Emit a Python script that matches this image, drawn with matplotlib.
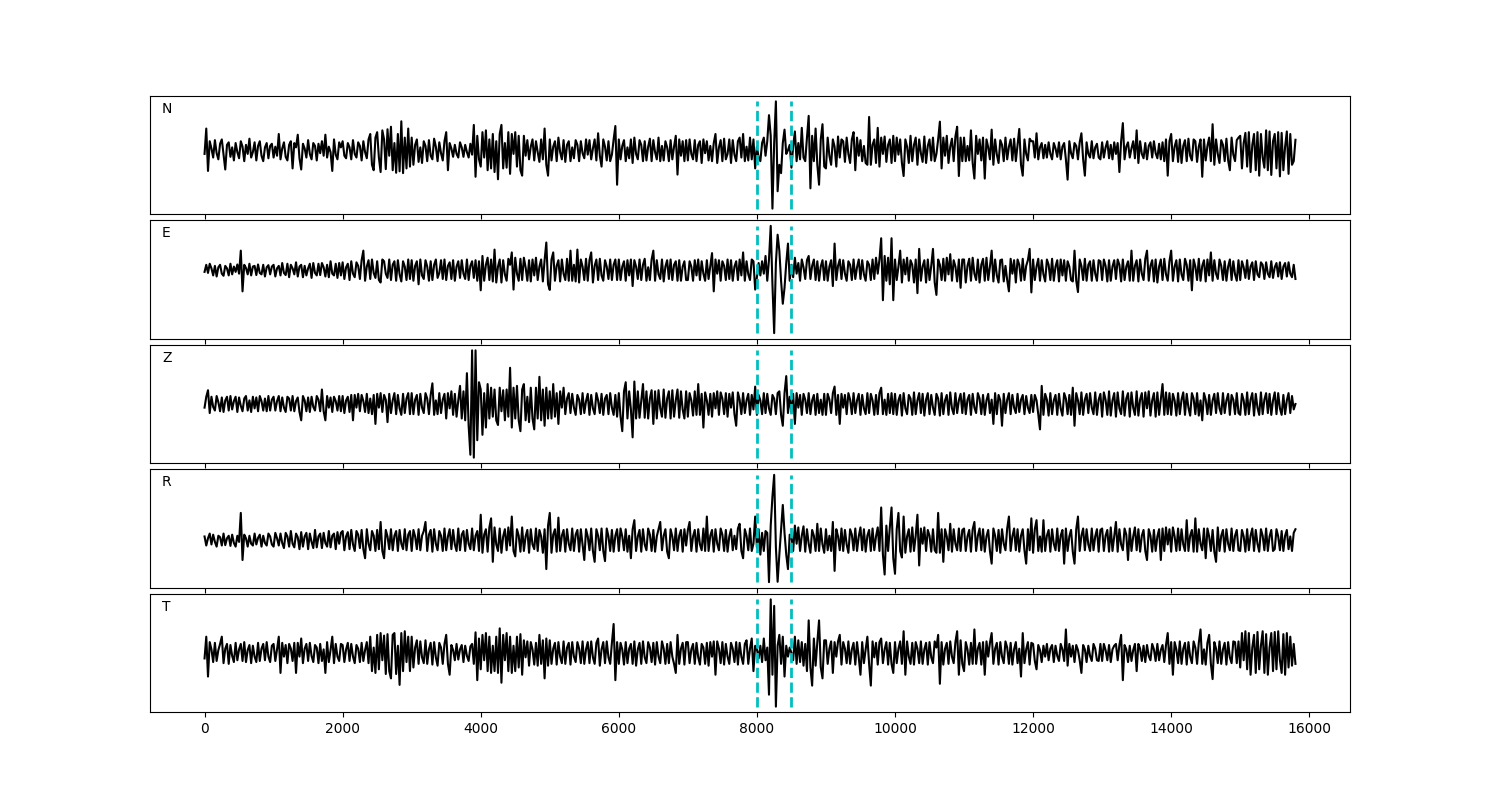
#!/usr/bin/env python3
"""
Five-component seismogram plot (N, E, Z, R, T) with a picked window
marked by two dashed vertical lines.

Outputs:
- out.png
"""

import numpy as np
import matplotlib
matplotlib.use("Agg")
import matplotlib.pyplot as plt

# Sample spacing of the traces (samples)
DT = 25

# Window picks (samples)
PICKS = [8000, 8500]

# Component labels, top to bottom
COMPONENTS = ["N", "E", "Z", "R", "T"]

# Traces, arbitrary amplitude units, one row = 1000 samples
trace_n = [
    -10, 60, -57, 25, 5, -20, 28, -8, -25, 18, 30, -12, -53, 15, 22, -18, 8, -28, 20, -5, -22, 25, 10, -30, 15, -10, 32, -20, -5, 22, -28, 12, 25, -15, -30, 8, 20, -22, 12, 18,
    -20, 10, -15, 45, -25, 5, 22, -18, -28, 15, 25, -50, 20, 8, 43, -22, -53, 18, 5, -20, 28, -10, -25, 20, 12, -28, 18, -8, 25, -15, 43, -20, 10, -5, -57, 30, -12, -25, 22, 8,
    25, -15, -22, 20, 8, -25, 28, -10, -20, 22, 12, -28, 25, -5, -22, 30, 45, -40, -55, 35, 50, -20, -60, 55, 30, -52, 58, -15, 65, -55, 20, -62, 45, -58, 80, -63, 35, -50, 60, -45,
    35, -40, 15, 30, -32, 8, -35, 25, 12, -30, 28, -15, -25, 32, 10, -30, 22, -8, -28, 25, 50, -55, 20, 5, -18, 15, -10, -20, 22, 8, -18, 15, -5, -20, 18, -12, 70, -73, 40, -25,
    -45, 50, -20, 55, -55, 30, -50, 45, -60, 25, -80, 45, 70, -50, 20, -48, 50, -65, 45, -10, 50, -45, 40, -55, -70, 40, -15, 28, -25, 10, 30, -28, 25, -5, -32, 30, -25, 60, -40, -70,
    30, -28, 10, 25, -30, 35, -5, -25, 28, -32, 15, 25, -30, 8, -22, 28, 15, -30, 25, -8, -22, 30, -12, 28, -25, 5, 30, -28, 47, -15, -45, 30, 10, -28, 25, -30, -12, 30, 67, -95,
    30, -25, 12, 28, -30, 8, -22, 30, -35, 35, -10, -25, 28, 15, -30, 25, -28, 10, 32, -30, 28, -5, -25, 35, -30, 12, -28, 25, 8, -30, 28, -25, 10, 40, -67, 30, -15, 25, -30, 28,
    -28, 30, -10, -25, 28, -30, 15, 25, -35, 30, -8, 25, -28, 12, -30, 20, 45, -35, 8, 28, -30, 32, -25, -10, 30, -35, 28, -12, -30, 25, 35, -20, 45, -30, 10, -28, 35, -25, 30, -50,
    10, -20, -30, 20, 35, -15, 25, 97, 40, -161, 20, 135, -113, -40, -63, 20, 57, -10, 0, 15, -48, 10, 52, -30, 20, -25, 62, -20, -30, 35, 95, -105, 40, -30, 60, -40, -95, 30, 72, -45,
    -50, 35, -15, -40, 30, 10, -45, 38, -20, 30, 25, -32, 35, -10, -35, 30, 50, -55, 35, -15, 28, -30, 12, -35, -40, 92, -40, 15, 30, -35, 62, -45, 35, -10, 38, -32, 15, 30, -35, 40,
    -30, 35, -12, 30, -35, -71, 30, 10, -35, 40, -30, 15, 35, -40, 30, -8, -32, 38, -35, 12, 30, -28, 35, -30, -10, 30, 79, -50, 35, -15, 40, -35, 10, 32, -30, 38, 65, -71, 35, -30,
    35, -30, 12, -28, 55, -35, -78, 40, -10, 30, -28, 35, -78, 30, 8, -25, 57, -40, 30, -12, -35, 28, 15, -30, 35, -25, 10, 30, -28, 32, -30, 15, 59, -40, -70, 30, -10, -28, 32, 25,
    25, -20, 47, -25, 8, 20, -22, 15, -20, 22, -10, -25, 20, 5, -18, 22, -25, 10, 20, -25, -81, 25, -8, -22, 20, 12, -25, 22, 47, -25, -70, 22, -10, -20, 25, -22, 8, 18, -20, -25,
    22, -20, 8, 25, -22, 15, -25, 22, -10, 20, -60, 25, 75, -25, 10, 22, -20, 5, 25, -22, 55, -35, 25, -10, -22, 20, -25, 12, 22, -20, 25, -8, -22, 18, -25, 22, -30, 30, -70, 25,
    45, -30, 10, 28, -32, 30, -35, 12, 28, -30, 32, -15, -28, 30, 25, -32, 10, 30, -73, 30, -28, 12, 35, -30, 72, -40, 30, -10, -35, 28, 15, -30, 32, -28, -55, 35, -12, -30, 28, 35,
    40, -50, 20, 48, -45, 50, -60, 15, 45, -55, 50, -70, 45, -20, -48, 55, -55, 52, -68, 25, 45, -50, 50, -72, 48, -55, 10, 52, -65, 45, -40, -30, 29,
]

trace_e = [
    -5, 15, -8, 18, 5, -15, 12, -18, 8, 15, -10, -16, 12, 5, -15, 18, -12, 10, -5, 16, -10, 55, -60, 15, 6, -12, 18, -15, 10, 12, -14, 16, -8, -12, 15, -18, 8, 14, -12, 10,
    15, -18, 5, 12, -15, 20, -8, -14, 18, -20, 15, 5, -12, 22, -18, 10, 15, -20, 12, -15, 5, 18, -22, 20, -8, -15, 18, -14, 20, 8, -18, 15, -20, 25, -10, -15, 18, -22, 20, -15,
    22, -25, 8, 18, -28, 25, -10, -20, 22, 12, -25, 28, 55, -30, 10, 28, -25, 30, -8, -22, 25, -28, -35, 30, 25, -10, -22, 30, -28, 15, 25, -30, 28, -12, -32, 25, 10, -28, 30, -25,
    28, -30, 12, 25, -40, 30, -15, -25, 28, 10, -30, 25, -28, 15, 30, -22, -8, 28, -25, 30, -28, 12, 22, -25, 28, -30, 10, 25, -22, 28, -10, -25, 30, -28, 12, 25, -22, 28, -30, 25,
    -57, 40, -30, 15, 35, -28, 30, -32, 58, -35, 10, 30, -35, 28, -12, -30, 32, 15, 50, -55, 35, -10, -30, 32, -28, 35, 8, -30, 28, -32, 30, -15, 35, -28, 10, 30, -32, 28, 78, -40,
    -56, 30, 50, -30, 12, 28, -32, 30, -10, -28, 32, -30, 55, -30, 15, -32, 58, -35, 30, 10, -28, 32, -30, 28, 50, -35, 12, 30, -28, 32, -15, -30, 28, 10, -25, 30, -28, 15, 30, -28,
    30, -28, 10, 25, -30, 28, -15, 30, -45, 28, 10, -25, 30, -28, 15, 32, -30, 8, -28, 30, 55, -30, 28, -12, -25, 30, -32, 10, 28, -25, 30, -28, 15, 25, -30, 28, -30, 10, 25, -28,
    -28, 25, 10, -30, 28, -15, 30, -28, 25, -10, -30, 28, -25, 12, 48, -60, 30, -10, 28, -30, 25, 12, -28, 30, -25, 28, -30, 10, 25, -28, 30, -15, 50, -30, 25, -12, -28, 30, 25, -55,
    -20, 20, -15, 25, -10, 40, -30, 30, 125, -40, -178, 20, 100, 55, -30, -95, -50, 20, 75, -30, 15, -20, 35, -10, 20, -30, 30, 8, -25, 28, 40, -25, 12, 30, -28, 25, -30, 10, 28, -28,
    25, -30, 10, 28, -45, 75, -28, 12, 30, -25, 28, -10, -30, 25, 15, -28, 30, -25, 8, 30, -25, 28, -12, -30, 25, 15, -28, 30, -25, 35, -10, 30, 90, -85, 40, -30, 35, -40, 90, -85,
    30, -28, 10, 55, -35, 30, -12, 35, -30, 28, 15, -35, 30, -65, 60, -30, 10, 28, -35, 30, -28, 12, 60, -35, -70, 30, 15, -28, 32, -30, 35, -12, 45, -30, 28, 10, -32, 30, -50, 30,
    30, -35, 12, 32, -30, 35, -10, -28, 30, -35, 15, 32, -30, 35, -28, 10, 55, -32, 30, -15, -35, 28, 30, -32, 12, -28, -60, 32, -10, 28, -35, 30, 15, -30, 32, -28, 12, 28, 60, -63,
    30, -28, 10, 32, -30, 28, -12, -32, 30, 15, -28, 32, -30, 10, 28, -32, 30, -15, 28, -30, 25, 10, -28, -32, 55, -30, -62, 30, 12, -28, 32, -30, 15, 25, -30, 28, -10, -30, 28, 25,
    -28, 30, 12, -32, 28, -30, 10, 28, -25, 30, 15, -32, 30, -28, 10, 25, -30, 55, -30, 12, 28, -32, 30, -10, -28, 32, 55, -30, 12, 28, -32, 30, -35, 10, 30, -28, 32, -12, -30, 25,
    55, -30, 10, 28, -32, 30, -12, -28, 32, 15, -30, 28, -57, 30, 10, -28, 32, -30, 12, 28, -32, 30, -15, 50, -30, 28, -10, -25, 30, 12, -28, 25, -30, 10, 30, -28, 25, -12, -30, 28,
    -28, 25, 8, -22, 28, -25, 10, 22, -28, 25, -12, -20, 22, 15, -25, 22, -10, -20, 25, -22, 8, 20, -18, 22, -25, 10, 20, -18, 22, -10, -20, 15, -25,
]

trace_z = [
    -10, 20, 38, -25, 20, -8, -18, 22, 5, -20, 18, -22, 10, 20, -18, 22, -15, 8, 20, -22, 18, -5, -20, 15, 22, -18, 10, -22, 20, -12, 18, -20, 22, 8, -18, 15, -20, 22, -18, 12,
    20, -18, 8, 22, -20, 18, -10, -22, 20, 15, -18, 22, -20, 8, 18, -22, -45, 22, 10, -20, 18, -22, 20, -8, -18, 22, 12, -20, 40, -20, -45, 22, -10, 18, -22, 20, 8, -18, 22, -20,
    22, -25, 10, 20, -22, 25, -45, 25, -10, 28, -20, 25, 8, -22, 28, -25, 15, -28, 25, -55, 28, -10, 30, -22, 25, 12, -50, 28, -25, 10, 30, -28, 25, -12, -30, 28, -25, 15, 30, -28,
    30, -28, 12, 25, -30, 28, -10, -25, 30, 15, -28, 25, 57, -30, 10, -28, 30, -25, 12, 28, -40, 30, -12, 35, -30, 28, -35, 10, 50, -40, 35, -45, 85, -60, -140, 148, -148, 148, -100, 60,
    40, -85, 30, -65, 55, -40, 45, -35, 40, -45, -58, 45, -20, 38, -45, 40, -35, 100, -65, 45, -40, 50, -45, -75, 40, 55, -45, 20, -50, 45, -40, -70, 45, -40, 75, -45, 40, -60, 45, -40,
    35, -40, 55, -35, 30, -55, 35, -10, 45, -28, 15, 30, -25, 28, -10, -30, 25, 12, -28, 30, -25, 8, 28, -30, 25, -12, -28, 30, 10, -25, 28, -30, 15, 25, -28, 30, -10, -30, 25, -35,
    30, -35, -75, 35, 60, -40, 35, -15, -92, 62, -40, 35, -38, 10, 55, -38, 35, -40, 15, 38, -55, 35, -40, 38, -12, -35, 40, -38, 15, 35, -40, 38, -35, 10, 40, -38, 35, -15, -40, 35,
    -35, 30, 10, -32, 35, -30, 55, -30, 28, -65, 32, 10, -30, 28, -35, 30, -12, 35, -30, 32, 15, -28, 30, -35, 28, -10, 32, -28, -60, 32, 12, -28, 30, -25, 10, 28, -30, 25, -15, 48,
    -30, 25, 10, -28, 30, -25, 28, -12, -30, 25, 15, -28, 30, 35, -30, -60, 30, 77, -25, 20, -25, 28, -55, 30, -10, 25, -30, 28, 12, -25, 30, -28, 10, 25, -30, 28, -25, 12, -30, 28,
    -30, 28, 12, -25, 30, 48, -30, 25, -55, 28, -10, 25, -28, 30, 12, -28, 30, -25, 10, 28, -30, 25, -12, -28, 30, -25, 28, 10, -30, 25, -28, 30, 45, -28, 12, -30, 28, -25, 30, -28,
    28, -30, 10, 25, -32, 30, -12, -28, 25, 15, -30, 32, -28, 10, 30, -25, 28, -32, 12, 30, -28, 25, -10, -30, 28, 15, -32, 30, -28, 10, 25, -30, 32, -12, -28, 30, -25, 10, 28, -25,
    30, -28, 12, 25, -30, 28, -10, -25, 30, 15, -28, 25, -30, 10, 28, -25, 12, -55, 30, -28, 25, 10, -60, 28, -25, 12, 30, -28, 25, -10, -25, 28, -22, 12, 25, -28, 22, -10, -25, 25,
    -22, 25, 10, -28, -70, 50, -30, 28, 12, -32, 30, -28, 10, 25, -30, 28, -12, -32, 30, 15, -28, 25, -30, 45, -60, 30, 10, -28, 32, -30, 12, 28, -25, 30, -10, -28, 32, -30, 12, 28,
    -35, 32, 12, -30, 35, -32, 10, 30, -35, 32, -12, -28, 35, -32, 15, 30, -35, 32, -10, -30, 35, -32, 12, 30, -35, 32, -12, 35, -32, 10, 30, -35, 32, -30, 12, 55, -30, 32, -28, 30,
    -30, 28, 10, -32, 30, -28, 12, 32, -30, 28, -10, -32, 30, 15, -28, 30, -32, 10, -45, 30, 12, -28, 25, -30, 10, 28, -25, 30, -12, -28, 30, -25, 10, 28, -30, 25, 12, -28, 30, -25,
    -30, 28, 10, -30, 32, -28, 12, 30, -32, 28, -10, -30, 32, -28, 12, 30, -25, 28, -30, 10, 32, -28, 30, -12, -30, 25, -28, 10, 30, -25, 22, -15, 0,
]

trace_r = [
    10, -15, 5, 18, -12, 15, -5, -18, 12, 8, -15, 18, -14, 5, 12, -16, 15, -8, -18, 12, -5, 75, -55, 15, 5, -18, 12, -10, -15, 18, -12, 6, 15, -18, 12, -8, -15, 18, 10, -12,
    -18, 20, 5, -15, 18, -8, -22, 20, 10, -18, 25, -10, -20, 18, 8, -25, 22, -18, 10, 20, -25, 18, -5, -22, 28, -20, 10, 18, -22, 20, -8, -18, 25, -20, 12, 18, -25, 22, -10, 20,
    25, -28, 10, 22, -25, 28, -12, -30, 25, 15, -22, 28, -25, -50, 30, -10, -28, 25, 12, -30, 28, -25, 50, -30, -50, 28, 10, -25, 30, -28, 12, 25, -30, 28, -10, -25, 30, -28, 15, 25,
    -30, 28, 10, -25, 30, -28, 12, 25, 50, -30, 15, 28, -32, 30, -10, -28, 25, 12, -30, 32, -28, 10, 30, -25, 28, -12, -30, 32, -28, 15, 25, -30, 28, -10, -25, 32, -28, 12, 25, -30,
    70, -35, 15, 30, -32, 35, 60, -60, 35, -12, -30, 32, -35, 10, 30, -28, 35, -15, 65, -30, -45, 30, 12, -32, 35, -30, 10, 28, -35, 30, -12, -25, 32, -30, 28, 10, -35, 30, -80, 40,
    75, -35, 15, 30, -32, 62, -30, 12, 28, -32, 30, -10, -28, 32, -30, 15, 28, -32, 30, -12, -55, 30, 10, -28, 32, -30, -60, 30, 12, -28, 32, -30, -58, 32, 10, -30, 28, -32, 12, 30,
    -30, 32, 10, -28, 30, -32, 12, -50, 30, 55, -30, 10, 28, -32, 30, -12, -28, 32, 15, -30, 28, -32, 10, 30, 50, -28, 12, 30, -32, -50, 30, 10, -28, 32, -30, 12, 28, -32, 30, -15,
    28, 50, -30, 10, 28, -32, 30, -12, -28, 32, -30, 65, -30, 12, 28, -32, 30, -10, -28, 32, 15, -30, 28, -32, 10, 30, -28, 12, -25, 32, 45, -30, -50, 30, 12, -28, 32, -30, -10, 65,
    -20, 30, -40, 20, -30, 25, 20, -116, 40, 120, 180, -20, -115, -40, 30, 97, 20, -40, -80, 15, 10, -30, 40, -10, 35, -30, 12, 38, -32, 30, -10, -35, 28, 12, -30, 45, -30, 32, -12, -35,
    30, -28, 12, -30, 50, -85, 30, 10, -28, 32, -30, 28, -12, -35, 30, 15, -28, 32, -30, 10, 35, -28, 30, -32, 12, 28, -30, 32, -28, 10, 35, -30, 90, -40, -95, 40, -30, 35, 90, -50,
    -93, 30, 75, -30, -48, 65, -35, 10, 30, -32, 35, -30, 12, 70, -70, 32, -10, 35, -30, 28, 12, -32, 30, -28, -35, 75, -35, 30, -60, 30, 10, -28, 45, -32, 30, -10, -28, 32, -30, 28,
    32, -30, 10, 28, -32, 30, 50, -30, 12, 32, -28, 30, -32, 10, 28, -30, -65, 32, 12, -30, 28, -35, 30, -10, -28, 32, 65, -30, 10, 32, -28, 30, -32, 12, 30, -28, -65, 30, -28, 60,
    -35, 30, 55, -30, 10, -32, 55, -30, 12, 28, -32, 30, -10, -28, 32, -30, 12, 28, -65, 32, -30, 10, 28, -32, -65, 30, 65, -30, 12, 32, -28, 30, -12, -30, 32, -28, 10, 30, -32, 28,
    32, -30, 12, 28, -32, 35, -30, 10, 50, -32, 30, -12, -28, 32, 15, -55, 32, -30, 10, 35, -28, 30, -32, 12, 28, -30, -55, 30, 12, -32, 28, -30, 10, 30, -55, 32, -30, 35, -12, 30,
    -32, 35, 10, -30, 32, -28, 30, -12, -30, 55, -30, 12, 28, -32, 60, -32, 30, -10, -28, 32, -50, 32, 10, -30, 28, -32, -60, 35, -30, 12, 28, -32, 30, -10, -28, 32, -30, 12, 28, -28,
    -30, 28, 10, -32, 30, -28, 12, 32, -30, 28, -10, -32, 30, 12, -28, 32, -30, 10, 28, -30, -25, 30, 10, -28, 25, -30, 12, 28, -25, 10, -30, 20, 30,
]

trace_t = [
    -15, 45, -65, 30, 10, -25, 28, -22, 8, 25, 45, -28, 12, 25, -30, 22, -8, -25, 28, -20, 10, 25, -22, 30, -25, 8, 22, -28, 20, -10, -25, 28, -22, 12, 25, -20, 30, -10, -25, 20,
    25, -22, 10, 45, -55, 28, -10, 22, -28, 25, 12, -22, 28, -55, 28, -10, 40, -28, 12, 25, -22, 28, -8, -25, 22, 15, -28, 25, -22, 10, -55, 30, -25, 8, 45, -28, 25, -10, -22, 25,
    22, -25, 10, 28, -22, 25, -10, -28, 22, 12, -25, 28, -22, 8, 30, -28, 45, -50, 15, -55, 50, -45, 55, -20, 48, -58, 52, -50, -70, 50, 55, -58, 20, -88, 55, -50, 60, -25, 45, -50,
    45, -40, 15, 35, -30, 32, -12, -28, 35, -30, 10, 28, -32, 30, -12, -35, 28, 15, -30, 25, 50, -30, -60, 22, 8, -20, 25, -18, 10, 22, -25, 20, -8, -22, 18, 25, -30, 57, -75, 40,
    -45, 50, -20, 55, -50, 45, -55, 20, -50, 45, -55, 68, -82, 50, -20, 55, -50, 45, -55, 20, -50, 45, -40, 52, -60, 35, -12, 32, -35, 30, 10, -32, 28, -35, 50, -30, 35, -70, 40, -35,
    35, -30, 12, 28, -32, 30, -10, -28, 32, -30, 15, 28, -32, 30, -10, -25, 30, 12, -28, 32, -30, 10, 30, -28, 32, -12, -30, 28, 40, -35, 10, 30, -28, 32, -12, -30, 28, 80, -75, 30,
    -30, 28, 10, -32, 30, -28, 12, 25, -30, 32, -35, 10, 28, -30, 32, -12, -28, 30, 15, -25, 28, -32, 30, -10, -28, 32, 12, -30, 25, -28, 30, -10, -30, -55, 50, -30, 12, 28, -32, 30,
    30, -28, 10, 25, -30, 28, -12, -32, 25, 15, -30, 28, -35, 30, -10, 32, -60, 32, 12, -28, 30, -32, 25, -10, -30, 28, 12, -25, 30, -32, 28, -10, -30, 25, 35, -30, 12, 40, -50, 20,
    10, -15, 20, -25, 40, -20, 15, -115, 148, -60, 130, -148, 20, 50, -30, 45, -65, 20, -10, 15, 0, -20, 45, -30, 35, -25, 30, -35, 25, -50, 90, -40, -90, 40, -35, 30, 90, -40, -70, 35,
    35, -30, 12, 32, -55, 30, -10, 32, 50, -32, 30, 12, -28, 32, -30, 10, 28, -32, 30, -12, -60, 30, -28, 10, 45, -30, -90, 32, -12, 28, -32, 30, 40, -28, 10, 30, -32, 28, -30, -55,
    30, -28, 12, 32, -30, 60, -60, 32, -10, -30, 28, -32, 30, 12, -28, 32, -30, 10, 28, -32, 30, -12, -28, 32, 15, 50, -85, 30, -32, 12, 28, -30, 32, -10, -28, 30, 60, -60, 35, -30,
    -50, 30, 10, -32, 28, -30, 65, -30, 12, 28, -32, 30, -60, 32, -10, 28, 55, -30, 12, 28, -32, 30, -10, -28, 32, 15, -30, 28, -32, 10, 30, -28, 12, -65, 55, -28, 10, 30, -32, 28,
    25, -22, -45, 22, 8, -25, 20, -10, 25, -20, 12, 22, -25, 20, -8, -22, 25, 10, -22, 65, -35, 25, -10, 20, -25, 22, 8, -20, -55, 22, 10, -25, 20, -8, -22, 25, 12, -20, -22, 25,
    -22, 25, 8, -20, 22, -25, 10, 20, 25, -20, 22, 50, -75, 22, 10, -25, 20, -22, 8, 25, -50, 25, 12, -22, 20, -25, 22, -8, -20, 25, 10, -22, 25, -20, 8, 22, -25, 22, 55, -30,
    30, -60, 30, 10, -28, 32, -30, 12, 28, -32, 30, -10, -28, 32, 15, -30, 28, 65, -30, 10, -32, 28, 50, -30, -72, 30, 12, -28, 32, -30, 10, 28, -32, 30, -12, -28, 32, 30, -28, 32,
    -40, 55, -20, 60, -45, 55, -60, 15, 50, -55, 58, -45, 20, 60, -55, 52, -60, 15, 55, -50, 58, -45, 60, -20, -55, 52, -60, 55, -40, 45, -35, 25, -30,
]


def plot_traces(traces):
    """Stack the components in shared-x panels and mark the window."""
    fig, axes = plt.subplots(len(traces), 1, figsize=(15, 8), dpi=100, sharex=True)
    fig.subplots_adjust(left=0.1, right=0.9, top=0.88, bottom=0.11, hspace=0.055)

    for ax, comp, data in zip(axes, COMPONENTS, traces):
        data = np.asarray(data, dtype=float)
        t = np.arange(len(data)) * DT
        ax.plot(t, data, color="k", linewidth=1.5)
        # dashed picks spanning the trace amplitude range
        ax.vlines(PICKS, data.min(), data.max(), colors="c",
                  linestyles="--", linewidth=2)
        ax.text(0.01, 0.95, comp, transform=ax.transAxes, va="top", ha="left",
                fontsize=10)
        ax.set_yticks([])

    axes[-1].set_xticks(np.arange(0, 16001, 2000))
    return fig


def main():
    fig = plot_traces([trace_n, trace_e, trace_z, trace_r, trace_t])
    fig.savefig("out.png", dpi=100)


if __name__ == "__main__":
    main()
